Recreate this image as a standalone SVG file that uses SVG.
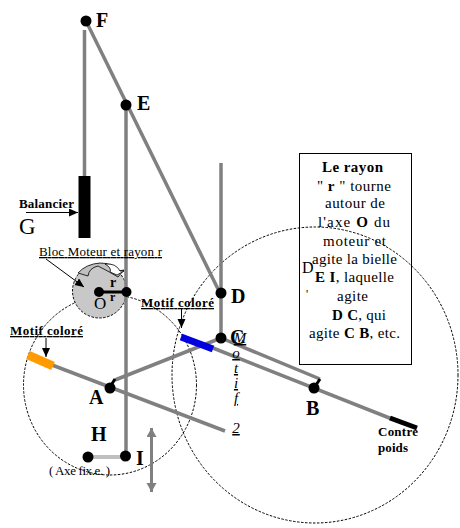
<svg xmlns="http://www.w3.org/2000/svg" width="460" height="528" viewBox="0 0 460 528">
<style>
text{font-family:"Liberation Serif","Times New Roman",serif;fill:#000}
.L{font-weight:bold;font-size:20px}
.b{font-weight:bold;font-size:13px}
.t{font-size:15px}
.t tspan{font-weight:bold}
.v{font-style:italic;font-size:15px;text-decoration:underline;text-anchor:middle}
.rod{stroke:#808080;stroke-width:3.5;fill:none}
.th{stroke:#000;stroke-width:1;fill:none}
.d{stroke:#000;stroke-width:1;stroke-dasharray:2.5 1.5;fill:none}
.dot{fill:#000}
</style>
<defs>
<marker id="ah" markerUnits="userSpaceOnUse" markerWidth="10" markerHeight="10" refX="9" refY="4" orient="auto"><path d="M0 0L9 4L0 8Z" fill="#000"/></marker>
<marker id="gh" markerUnits="userSpaceOnUse" markerWidth="12" markerHeight="12" refX="9" refY="5" orient="auto-start-reverse"><path d="M0 0L9 5L0 10Z" fill="#808080"/></marker>
</defs>
<g id="info-box">
<rect x="299.5" y="153.5" width="112" height="211" fill="#fff" stroke="#000"/>
</g>
<g id="connectors-circles">
<ellipse class="d" cx="110" cy="385" rx="86.5" ry="90"/>
<ellipse class="d" cx="315" cy="375" rx="143" ry="148"/>
</g>
<g id="motor">
<circle cx="99.5" cy="291" r="27" fill="#c8c8c8" stroke="#000" stroke-dasharray="2.5 1.5"/>
<path d="M78 273Q86 264 100 263Q113 263 118 271L124 270L118 277Q108 271 98 266Q89 268 88 276Z" fill="#c0c0c0" stroke="#000" stroke-width="0.8"/>
<path d="M105 264Q116 263 120 271L124 271L117 275L110 272Q112 268 105 264Z" fill="#fff" stroke="#000" stroke-width="0.8"/>
</g>
<g id="connectors">
<path class="rod" d="M86 21L218 289"/>
<path class="rod" d="M84.5 30V176"/>
<path class="rod" d="M126 105V456"/>
<path class="rod" d="M221 163V338"/>
<path class="rod" d="M52 365L225 431"/>
<path class="rod" d="M115 380L221 338"/>
<path class="rod" d="M221 338L320 379"/>
<path class="rod" d="M213 348L392 419"/>
<path d="M88 457H126" stroke="#c0c0c0" stroke-width="4" fill="none"/>
<path d="M151.5 428V492" stroke="#808080" stroke-width="3" marker-start="url(#gh)" marker-end="url(#gh)" fill="none"/>
<path d="M84.5 176V238" stroke="#000" stroke-width="12" fill="none"/>
<path d="M28 355L53 366" stroke="#ff9a00" stroke-width="9" fill="none"/>
<path d="M181 337L213 349" stroke="#0000e0" stroke-width="7" fill="none"/>
<path d="M390 418L417 428" stroke="#000" stroke-width="5" fill="none"/>
<path d="M99 292H126" stroke="#000" stroke-width="3" fill="none"/>
<path d="M110 387L115 379M314 388L320 379" stroke="#000" stroke-width="3" fill="none"/>
<path class="th" d="M26 212.5H78" marker-end="url(#ah)"/>
<path class="th" d="M46 259L84 287" marker-end="url(#ah)"/>
<path class="th" d="M46 338V357" marker-end="url(#ah)"/>
<path class="th" d="M181.5 309V328" marker-end="url(#ah)"/>
</g>
<g id="node-F"><circle class="dot" cx="86" cy="21" r="5.5"/><text class="L" x="96" y="27">F</text></g>
<g id="node-E"><circle class="dot" cx="126" cy="105" r="5.5"/><text class="L" x="137" y="110">E</text></g>
<g id="node-D"><circle class="dot" cx="221" cy="293" r="5.5"/><text class="L" x="231" y="303">D</text></g>
<g id="node-C"><circle class="dot" cx="221" cy="338" r="5.5"/><text class="L" x="230" y="344">C</text></g>
<g id="node-A"><circle class="dot" cx="110" cy="388" r="5.5"/><text class="L" x="89" y="404">A</text></g>
<g id="node-B"><circle class="dot" cx="314" cy="388" r="5.5"/><text class="L" x="306" y="415">B</text></g>
<g id="node-H"><circle class="dot" cx="88" cy="457" r="5.5"/><text class="L" x="91" y="441">H</text></g>
<g id="node-I"><circle class="dot" cx="125.5" cy="456" r="5.5"/><text class="L" x="136" y="465">I</text></g>
<g id="node-O"><circle class="dot" cx="99" cy="292" r="5"/><circle class="dot" cx="126.5" cy="292" r="5"/>
<text x="94" y="309" font-size="17">O</text>
<text x="110" y="287" font-size="14" font-weight="bold">r</text>
<text x="110" y="301" font-size="12" font-weight="bold">r</text>
</g>
<g id="labels">
<text class="b" x="19" y="208" textLength="55">Balancier</text>
<text x="19" y="234" font-size="23">G</text>
<text x="39" y="256" font-size="13" textLength="123" text-decoration="underline">Bloc Moteur et rayon r</text>
<text class="b" x="10" y="335" textLength="73" text-decoration="underline">Motif  coloré</text>
<text class="b" x="141" y="307" textLength="73" text-decoration="underline">Motif  coloré</text>
<text x="49" y="475" font-size="13" textLength="61">( Axe fix.e. )</text>
<text class="b" x="378" y="436" textLength="40">Contre</text>
<text class="b" x="378" y="452" textLength="30">poids</text>
<text class="v" x="240" y="343">M</text>
<text class="v" x="236" y="358">o</text>
<text class="v" x="236" y="373">t</text>
<text class="v" x="236" y="388">i</text>
<text class="v" x="236" y="403">f</text>
<text class="v" x="236" y="433">2</text>
<text x="302" y="273" font-size="16">D</text>
<text x="306" y="298" font-size="12">'</text>
</g>
<g id="info-text">
<text class="t" x="322" y="172" textLength="61"><tspan>Le rayon</tspan></text>
<text class="t" x="317" y="191" textLength="74">" <tspan>r</tspan> " tourne</text>
<text class="t" x="325" y="208" textLength="60">autour de</text>
<text class="t" x="318" y="227" textLength="72">l'axe <tspan>O</tspan>  du</text>
<text class="t" x="323" y="246" textLength="63">moteur et</text>
<text class="t" x="312" y="264" textLength="85">agite la bielle</text>
<text class="t" x="315" y="282" textLength="79"><tspan>E I</tspan>, laquelle</text>
<text class="t" x="337" y="301" textLength="31">agite</text>
<text class="t" x="332" y="320" textLength="54"><tspan>D C</tspan>, qui</text>
<text class="t" x="309" y="338" textLength="91">agite <tspan>C B</tspan>, etc.</text>
</g>
</svg>
